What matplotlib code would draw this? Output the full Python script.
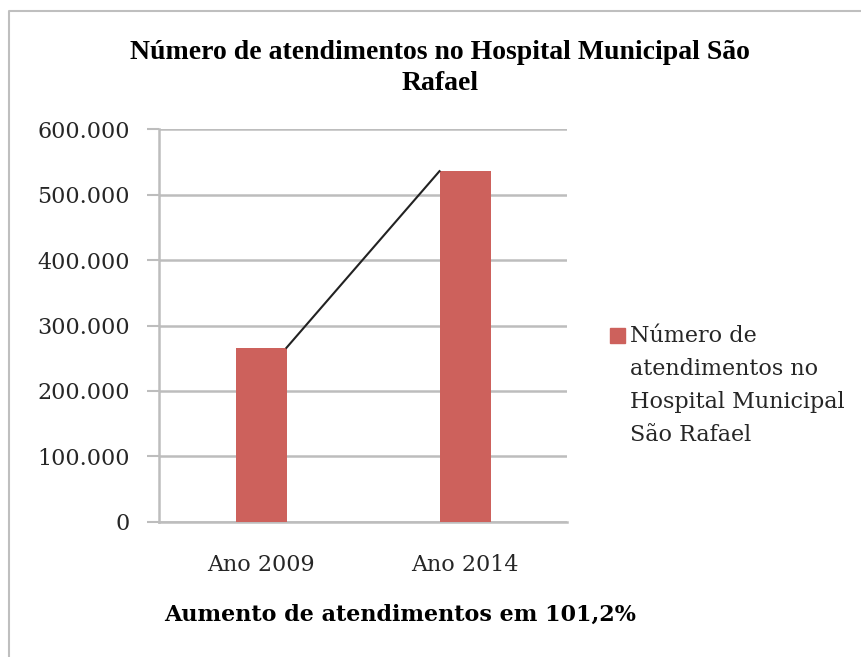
import matplotlib
matplotlib.use("Agg")
import matplotlib.pyplot as plt
from matplotlib.patches import Rectangle
from matplotlib.lines import Line2D

# data
categories = ["Ano 2009", "Ano 2014"]
atendimentos = [266000, 536000]
y_ticks = [0, 100000, 200000, 300000, 400000, 500000, 600000]
y_labels = ["0", "100.000", "200.000", "300.000", "400.000", "500.000", "600.000"]
series_name = "Número de\natendimentos no\nHospital Municipal\nSão Rafael"
title = "Número de atendimentos no Hospital Municipal São\nRafael"
xlabel = "Aumento de atendimentos em 101,2%"

BAR = "#CD615C"
GRID = "#BDBDBD"
TXT = "#262626"
W, H = 862, 657
BW = 0.25

fig = plt.figure(figsize=(W / 100, H / 100), dpi=100)
ax = fig.add_axes([159 / W, (H - 521.7) / H, (567 - 159) / W, (521.7 - 129.3) / H])

x = list(range(len(categories)))
ax.bar(x, atendimentos, width=BW, color=BAR, zorder=3)
# series line between bar tops
ax.plot([x[0] + BW / 2, x[1] - BW / 2], atendimentos, color="#222222", lw=1.5, zorder=4)

ax.set_xlim(-0.5, 1.5)
ax.set_ylim(0, 600000)
ax.set_yticks(y_ticks)
ax.set_yticklabels(y_labels, family="DejaVu Serif", fontsize=16, color=TXT)
ax.set_xticks(x)
ax.set_xticklabels(categories, family="DejaVu Serif", fontsize=16, color=TXT)
ax.tick_params(axis="x", length=0, pad=23)
ax.tick_params(axis="y", length=9, width=1.5, color=GRID, pad=12)
ax.yaxis.grid(True, color=GRID, lw=1.8, zorder=0)
for s in ["top", "right"]:
    ax.spines[s].set_visible(False)
for s in ["left", "bottom"]:
    ax.spines[s].set_color(GRID)
    ax.spines[s].set_linewidth(1.8)

fig.text(440 / W, 1 - 68 / H, title, ha="center", va="center", family="Liberation Serif",
         weight="bold", fontsize=20, linespacing=1.3)
fig.text(400 / W, 1 - 615 / H, xlabel, ha="center", va="center", family="DejaVu Serif",
         weight="bold", fontsize=16)

# legend
fig.patches.append(Rectangle((610 / W, 1 - 343 / H), 15 / W, 15 / H, transform=fig.transFigure,
                             color=BAR))
fig.text(630 / W, 1 - 325 / H, series_name, ha="left", va="top", family="DejaVu Serif",
         fontsize=16, color=TXT, linespacing=1.65)

# chart border (left and top visible)
fig.lines.append(Line2D([9 / W, 9 / W, 1.0], [0.0, 1 - 11 / H, 1 - 11 / H],
                        transform=fig.transFigure, color="#BFBFBF", lw=1.5))

fig.savefig("out.png", dpi=100)
